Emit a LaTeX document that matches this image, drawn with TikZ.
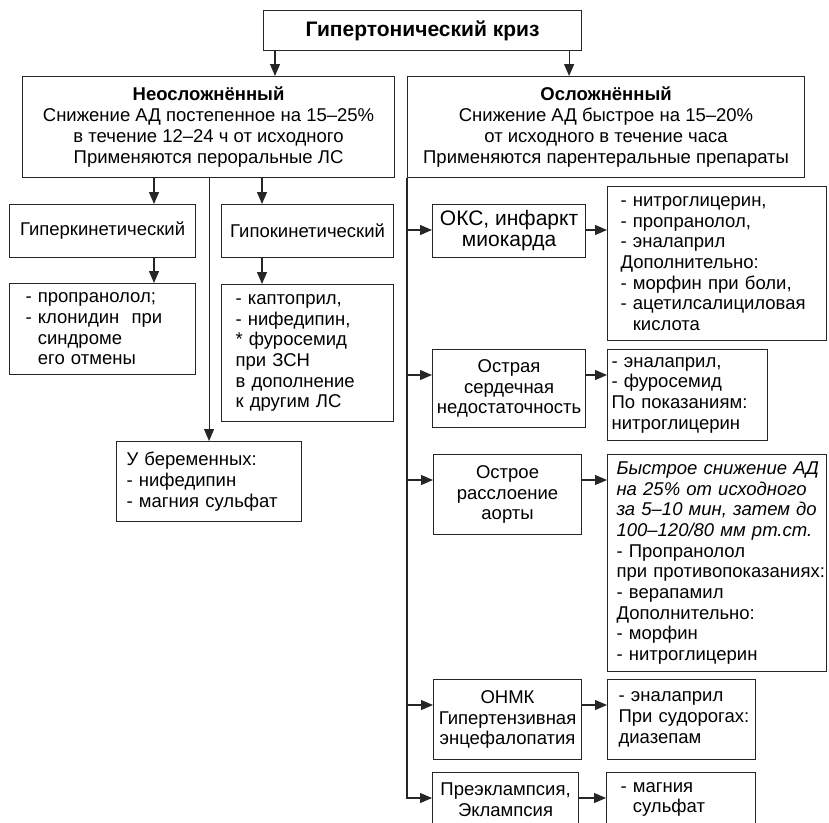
\documentclass[tikz,border=0pt]{standalone}
\usepackage{fontspec}
\setmainfont{Liberation Sans}
\usetikzlibrary{arrows.meta}
\tikzset{
    boxsize/.style 2 args = {minimum width=#1bp, minimum height=#2bp},
    box/.style = {rectangle,draw=black!85,line width=1.1bp,inner sep=0pt,anchor=north west,
        font=\fontsize{18.5bp}{20.7bp}\selectfont},
    headbox/.style = {box,align=center},
    kindbox/.style = {box,align=center},
    drugbox/.style = {box,align=left},
    link/.style = {draw=black!85,line width=1.1bp},
    arr/.style = {link,-{Triangle[length=12bp,width=10bp]}}}

\begin{document}
\begin{tikzpicture}[x=1bp,y=-1bp]
    \useasboundingbox (0,0) rectangle (829,823);
    \clip (0,0) rectangle (829,823);
    % top
    \node[headbox,boxsize={318}{40},font=\bfseries\fontsize{21bp}{24bp}\selectfont] (crisis) at (263,10) {Гипертонический криз};
    \node[headbox,boxsize={372}{101}] (simple) at (22,76)
        {{\bfseries Неосложнённый}\\Снижение АД постепенное на 15–25\%\\в течение 12–24 ч от исходного\\Применяются пероральные ЛС};
    \node[headbox,boxsize={397}{101}] (complic) at (407,76)
        {{\bfseries Осложнённый}\\Снижение АД быстрое на 15–20\%\\от исходного в течение часа\\Применяются парентеральные препараты};
    % left branch
    \node[kindbox,boxsize={186}{53}] (hyper) at (9,204) {Гиперкинетический};
    \node[kindbox,boxsize={172}{53}] (hypo) at (221,204) {Гипокинетический};
    \node[drugbox,boxsize={186}{91},inner xsep=16bp,text width=154bp] (hyperdrug) at (9,283)
        {- пропранолол;\\- клонидин\ \ при\\\phantom{- }синдроме\\\phantom{- }его отмены};
    \node[drugbox,boxsize={172}{137},inner xsep=14bp,text width=144bp] (hypodrug) at (221,284)
        {- каптоприл,\\- нифедипин,\\{*} фуросемид\\при ЗСН\\в дополнение\\к другим ЛС};
    \node[drugbox,boxsize={185}{80},inner xsep=10bp,text width=165bp] (pregn) at (116,441)
        {У беременных:\\- нифедипин\\- магния сульфат};
    % right branch
    \node[kindbox,boxsize={153}{53},font=\fontsize{21bp}{21bp}\selectfont] (acs) at (432,204) {ОКС, инфаркт\\миокарда};
    \node[drugbox,boxsize={219}{154},inner xsep=13bp,text width=193bp] (acsdrug) at (607,186)
        {- нитроглицерин,\\- пропранолол,\\- эналаприл\\Дополнительно:\\- морфин при боли,\\- ацетилсалициловая\\\phantom{- }кислота};
    \node[kindbox,boxsize={153}{78}] (ahf) at (432,349) {Острая\\сердечная\\недостаточность};
    \node[drugbox,boxsize={160}{91},inner xsep=4bp,text width=152bp] (ahfdrug) at (607,349)
        {- эналаприл,\\- фуросемид\\По~показаниям:\\нитроглицерин};
    \node[kindbox,boxsize={148}{80}] (aorta) at (433,454) {Острое\\расслоение\\аорты};
    \node[drugbox,boxsize={219}{217},inner xsep=9bp,text width=201bp] (aortadrug) at (607,454)
        {\mbox{\itshape Быстрое снижение АД}\\\mbox{\itshape на 25\% от исходного}\\\mbox{\itshape за 5–10 мин, затем до}\\\mbox{\itshape 100–120/80 мм рт.ст.}\\- Пропранолол\\\mbox{при противопоказаниях:}\\- верапамил\\Дополнительно:\\- морфин\\- нитроглицерин};
    \node[kindbox,boxsize={148}{80}] (stroke) at (433,679) {ОНМК\\Гипертензивная\\энцефалопатия};
    \node[drugbox,boxsize={148}{80},inner xsep=11bp,text width=126bp] (strokedrug) at (607,679)
        {- эналаприл\\При~судорогах:\\диазепам};
    \node[kindbox,boxsize={146}{54}] (eclamp) at (432,772) {Преэклампсия,\\Эклампсия};
    \node[drugbox,boxsize={149}{54},inner xsep=14bp,text width=121bp] (eclampdrug) at (606,772)
        {- магния\\\phantom{- }сульфат};
    % arrows
    \coordinate (lefttap) at ([xshift=12bp]crisis.south west);
    \coordinate (righttap) at ([xshift=-13bp]crisis.south east);
    \coordinate (hyperx) at (154,0);
    \coordinate (hypox) at (262,0);
    \coordinate (trunk) at (complic.south west);
    \draw[arr] (lefttap) -- (lefttap |- simple.north);
    \draw[arr] (righttap) -- (righttap |- complic.north);
    \draw[arr] (simple.south -| hyperx) -- (hyper.north -| hyperx);
    \draw[arr] (hyper.south -| hyperx) -- (hyperdrug.north -| hyperx);
    \draw[arr] (simple.south -| hypox) -- (hypo.north -| hypox);
    \draw[arr] (hypo.south -| hypox) -- (hypodrug.north -| hypox);
    \draw[arr] (simple.south -| pregn.north) -- (pregn.north);
    \foreach \k in {acs,ahf,aorta,stroke,eclamp} {
        \coordinate (tap\k) at ([yshift=-26bp]\k.north west);
        \draw[arr] (trunk |- tap\k) -- (tap\k);
        \draw[arr] (\k.east |- tap\k) -- (\k drug.west |- tap\k);
    }
    \draw[link,line cap=rect] (trunk) -- (trunk |- tapeclamp);
\end{tikzpicture}
\end{document}
